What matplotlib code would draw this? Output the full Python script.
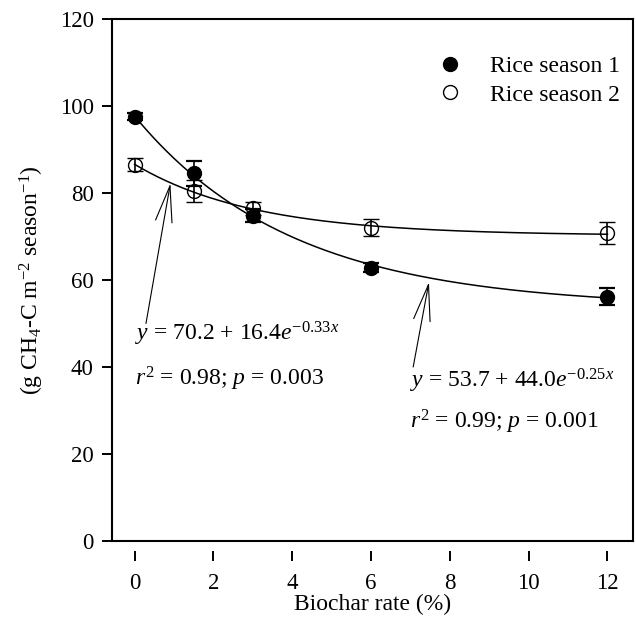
import numpy as np
import matplotlib.pyplot as plt

plt.rcParams['font.family'] = 'Liberation Serif'
plt.rcParams['mathtext.fontset'] = 'custom'
plt.rcParams['mathtext.rm'] = 'Liberation Serif'
plt.rcParams['mathtext.it'] = 'Liberation Serif:italic'

# data
rate = [0, 1.5, 3, 6, 12]
season1 = [97.5, 84.5, 74.8, 62.8, 56.2]
season1_err = [0.8, 2.8, 1.5, 1.0, 2.0]
season2 = [86.5, 80.5, 76.5, 72.0, 70.8]
season2_err = [1.5, 2.5, 1.5, 2.0, 2.5]

# fitted curves y = a + b*exp(c*x), as printed on the chart
fit1 = (53.7, 44.0, -0.25)
fit2 = (70.2, 16.4, -0.33)

fig = plt.figure(figsize=(6.36, 6.2), dpi=100)
ax = fig.add_axes([0.1756, 0.1274, 0.8192, 0.842])

xx = np.linspace(0, 12, 300)
ax.plot(xx, fit1[0] + fit1[1] * np.exp(fit1[2] * xx), color='black', lw=1.1, zorder=3)
ax.plot(xx, fit2[0] + fit2[1] * np.exp(fit2[2] * xx), color='black', lw=1.1, zorder=3)

eb1 = ax.errorbar(rate, season1, yerr=season1_err, fmt='o', color='black', ms=10,
                  capsize=6, capthick=1.6, elinewidth=1.2, zorder=2)
eb2 = ax.errorbar(rate, season2, yerr=season2_err, fmt='o', color='black', ms=10,
                  mfc='none', mec='black', mew=1.0, capsize=6, capthick=1.6,
                  elinewidth=1.2, zorder=2)

ax.legend([eb1[0], eb2[0]], ['Rice season 1', 'Rice season 2'], loc='upper right',
          bbox_to_anchor=(0.975, 0.93), frameon=False, fontsize=17,
          handletextpad=0.7, labelspacing=0.3, borderaxespad=0, borderpad=0)

# arrows from the equations to the curves
arrow = dict(arrowstyle='->,head_length=2.6,head_width=0.6', color='black', lw=0.8,
             shrinkA=0, shrinkB=0)
ax.annotate('', xy=(0.91, 82.2), xytext=(0.29, 50.0), arrowprops=arrow)
ax.annotate('', xy=(7.47, 59.5), xytext=(7.07, 40.0), arrowprops=arrow)

eq_fs = 17
ax.text(0.0, 47.5, r'$y$ = 70.2 + 16.4$e^{-0.33x}$', fontsize=eq_fs, ha='left', va='center')
ax.text(0.0, 37.3, r'$r^2$ = 0.98; $p$ = 0.003', fontsize=eq_fs, ha='left', va='center')
ax.text(7.0, 36.8, r'$y$ = 53.7 + 44.0$e^{-0.25x}$', fontsize=eq_fs, ha='left', va='center')
ax.text(7.0, 27.3, r'$r^2$ = 0.99; $p$ = 0.001', fontsize=eq_fs, ha='left', va='center')

ax.set_xlim(-0.58, 12.64)
ax.set_ylim(0, 120)
ax.set_xticks([0, 2, 4, 6, 8, 10, 12])
ax.set_yticks([0, 20, 40, 60, 80, 100, 120])

# x axis ticks hang below the frame
ax.spines['bottom'].set_position(('outward', 7))
ax.spines['bottom'].set_visible(False)
ax.plot([0, 1], [0, 0], transform=ax.transAxes, color='black', lw=1.5, clip_on=False)
for s in ['left', 'right', 'top']:
    ax.spines[s].set_linewidth(1.5)

ax.tick_params(axis='both', direction='out', length=7, width=1.4, labelsize=16.5)
ax.tick_params(axis='x', pad=9)
ax.tick_params(axis='y', pad=6)

ax.set_xlabel('Biochar rate (%)', fontsize=17, labelpad=0)
ax.set_ylabel(r'(g CH$_4$-C m$^{-2}$ season$^{-1}$)', fontsize=17, labelpad=10)

fig.savefig('out.png', dpi=100)
